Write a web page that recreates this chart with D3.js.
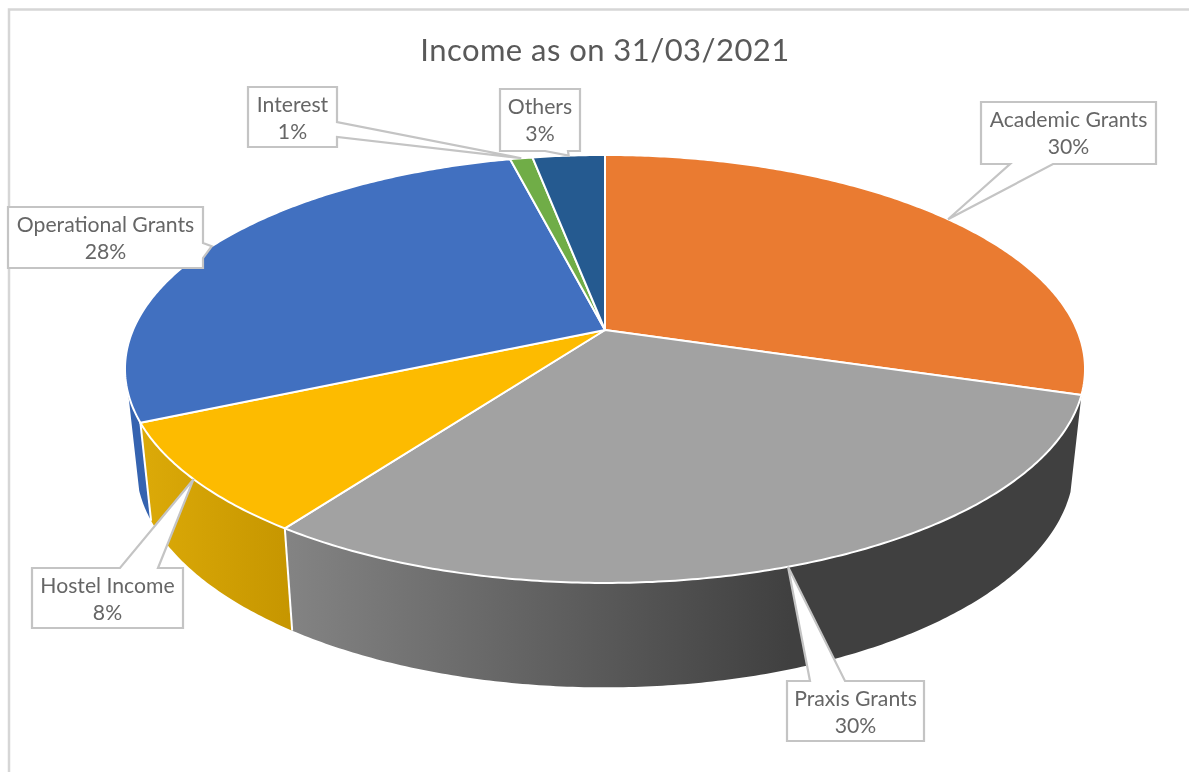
<!DOCTYPE html>
<html><head><meta charset="utf-8">
<script src="https://cdn.jsdelivr.net/npm/d3@7/dist/d3.min.js"></script>
<style>html,body{margin:0;padding:0;background:#fff}svg{display:block;filter:blur(0.45px)}text{font-family:Lato,"Open Sans",sans-serif}</style>
</head><body><svg id="c" width="1189" height="772"></svg>
<script>
const chartTitle = "Income as on 31/03/2021";
const categories = ["Academic Grants","Praxis Grants","Hostel Income","Operational Grants","Interest","Others"];
const shares = [29.8,30.0,8.4,28.0,0.9,2.9];
const percentLabels = ["30%","30%","8%","28%","1%","3%"];
const topColors = ["#ea7b31","#a2a2a2","#fdbb00","#4170c0","#70ad47","#255a90"];

const svg = d3.select("#c"), defs = svg.append("defs");
// Perspective view of the disc
const cx=605, cy=330, Rx=472, Ay=206.9, k=0.182, depth=98, tilt=0.04, shrink=0.977;
function topPt(a){const X=Math.sin(a),Y=-Math.cos(a),w=1-k*Y;return [cx+Rx*X/w, cy+Ay*Y/w];}
function botPt(a){const p=topPt(a);return [cx+(p[0]-cx)*shrink, p[1]+depth+(p[1]-422)*tilt];}
const arcs = d3.pie().value(d=>d).sort(null).startAngle(0).endAngle(2*Math.PI)(shares);
const line = d3.line();
const arcSamples=(a,b)=>{const n=Math.max(2,Math.ceil(Math.abs(b-a)/0.01));return d3.range(n+1).map(i=>a+(b-a)*i/n);};

// Frame
svg.append("path").attr("d","M1189,9.5H9V772").attr("fill","none").attr("stroke","#d6d6d6").attr("stroke-width",2.5);

// Walls
function grad(id,x1,x2,stops){const g=defs.append("linearGradient").attr("id",id).attr("gradientUnits","userSpaceOnUse").attr("x1",x1).attr("x2",x2).attr("y1",0).attr("y2",0);
  stops.forEach(s=>g.append("stop").attr("offset",s[0]).attr("stop-color",s[1]));}
grad("wPraxis",290,790,[[0,"#838383"],[1,"#404040"]]);
grad("wHostel",140,290,[[0,"#dcaa08"],[1,"#c69600"]]);
const wallFill=[null,"url(#wPraxis)","url(#wHostel)","#3563b0",null,null];
const viewEnd = 253*Math.PI/180;
[3,2,1].forEach(i=>{
  const d=arcs[i], a0=d.startAngle, a1=Math.min(d.endAngle,viewEnd);
  const s=arcSamples(a0,a1);
  const poly=s.map(topPt).concat(s.slice().reverse().map(botPt));
  svg.append("path").attr("d",line(poly)+"Z").attr("fill",wallFill[i]);
});
// seams on the wall
[arcs[1].endAngle,arcs[2].endAngle].forEach(a=>{
  svg.append("path").attr("d",line([topPt(a),botPt(a)])).attr("stroke","#fff").attr("stroke-width",2).attr("fill","none");
});

// Top face
arcs.forEach((d,i)=>{
  const s=arcSamples(d.startAngle,d.endAngle);
  svg.append("path").attr("d",line([[cx,cy]].concat(s.map(topPt)))+"Z")
    .attr("fill",topColors[i]).attr("stroke","#fff").attr("stroke-width",2).attr("stroke-linejoin","round");
});

// Title
svg.append("text").attr("x",605).attr("y",61).attr("text-anchor","middle").attr("font-size",31).attr("letter-spacing",0.45).attr("fill","#595959").text(chartTitle);

// Callouts: box, and the side its wedge leaves from
const boxes=[
 {x:981,y:102,w:175,h:62,side:"b",p:[1010,1053]},
 {x:787,y:681,w:137,h:60,side:"t",p:[810,845]},
 {x:32,y:568,w:151,h:60,side:"t",p:[120,158]},
 {x:8,y:207,w:195,h:61,side:"r",p:[243,258]},
 {x:248,y:87,w:89,h:60,side:"r",p:[122,137]},
 {x:500,y:89,w:80,h:62,side:"b",p:[545,568]}
];
arcs.forEach((d,i)=>{
  const b=boxes[i], tip=topPt((d.startAngle+d.endAngle)/2), r=b.x+b.w, B=b.y+b.h;
  let pts;
  if(b.side==="b") pts=[[b.x,b.y],[r,b.y],[r,B],[b.p[1],B],tip,[b.p[0],B],[b.x,B]];
  if(b.side==="t") pts=[[b.x,b.y],[b.p[0],b.y],tip,[b.p[1],b.y],[r,b.y],[r,B],[b.x,B]];
  if(b.side==="r") pts=[[b.x,b.y],[r,b.y],[r,b.p[0]],tip,[r,b.p[1]],[r,B],[b.x,B]];
  svg.append("path").attr("d",line(pts)+"Z").attr("fill","#fff").attr("stroke","#c4c4c4").attr("stroke-width",2.2).attr("stroke-linejoin","miter");
  const t=svg.append("text").attr("text-anchor","middle").attr("font-size",21.2).attr("fill","#666");
  t.append("tspan").attr("x",b.x+b.w/2).attr("y",b.y+25).text(categories[i]);
  t.append("tspan").attr("x",b.x+b.w/2).attr("y",b.y+52).text(percentLabels[i]);
});
</script></body></html>
